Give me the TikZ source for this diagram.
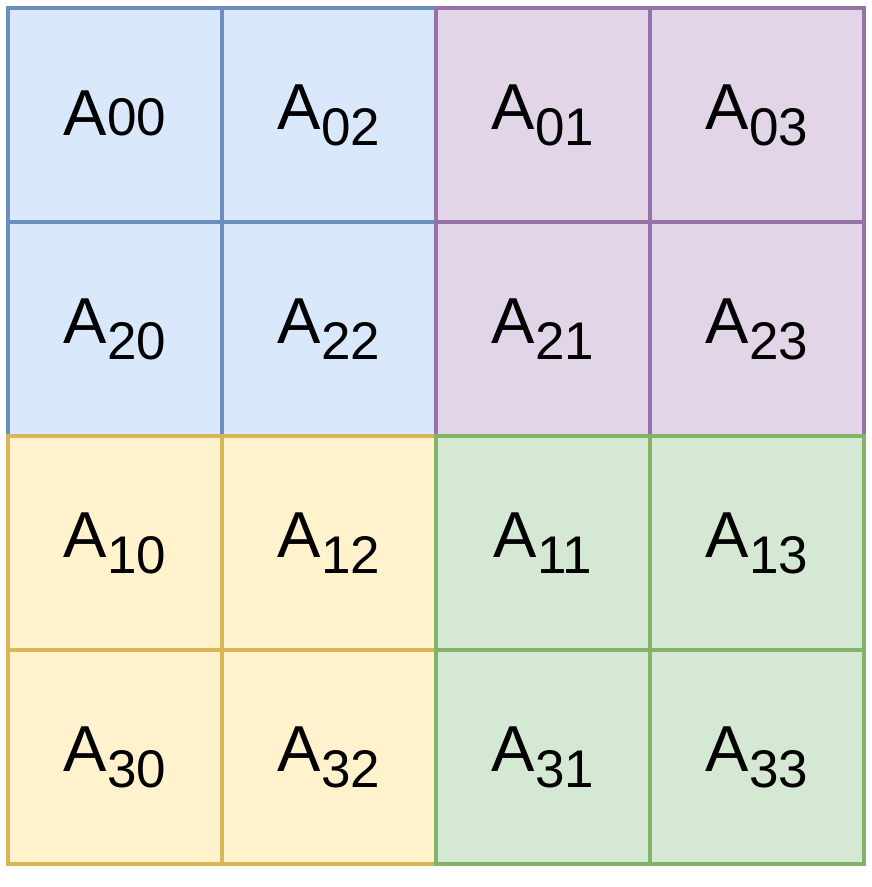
\documentclass[tikz,border=0pt]{standalone}
\usepackage{fontspec}
\setmainfont{Liberation Sans}
\definecolor{bluefill}{HTML}{DAE8FC}\definecolor{bluedraw}{HTML}{6C8EBF}
\definecolor{purplefill}{HTML}{E1D5E7}\definecolor{purpledraw}{HTML}{9673A6}
\definecolor{yellowfill}{HTML}{FFF2CC}\definecolor{yellowdraw}{HTML}{D6B656}
\definecolor{greenfill}{HTML}{D5E8D4}\definecolor{greendraw}{HTML}{82B366}
\newcommand{\bigA}{\fontsize{65}{65}\selectfont A}
\newcommand{\sbs}[1]{\raisebox{-16pt}{\fontsize{53}{53}\selectfont #1}}
\newcommand{\nsb}[1]{{\fontsize{53}{53}\selectfont #1}}
\begin{document}
\begin{tikzpicture}[x=1pt,y=1pt,
  cell/.style={draw, line width=4.3pt, rectangle, minimum width=214pt, minimum height=214pt, inner sep=0pt, font=\fontsize{65}{65}\selectfont},
  bluecell/.style={cell, fill=bluefill, draw=bluedraw},
  purplecell/.style={cell, fill=purplefill, draw=purpledraw},
  yellowcell/.style={cell, fill=yellowfill, draw=yellowdraw},
  greencell/.style={cell, fill=greenfill, draw=greendraw}]
\useasboundingbox (0,0) rectangle (871,887);
\fill[white] (0,0) rectangle (871,887);
% blue
\node[bluecell] (c00) at (115,772) {\raisebox{3pt}{\bigA\nsb{00}}};
\node[bluecell] (c02) at (329,772) {\bigA\sbs{02}};
\node[bluecell] (c20) at (115,558) {\bigA\sbs{20}};
\node[bluecell] (c22) at (329,558) {\bigA\sbs{22}};
% purple
\node[purplecell] (c01) at (543,772) {\bigA\sbs{01}};
\node[purplecell] (c03) at (757,772) {\bigA\sbs{03}};
\node[purplecell] (c21) at (543,558) {\bigA\sbs{21}};
\node[purplecell] (c23) at (757,558) {\bigA\sbs{23}};
% yellow
\node[yellowcell] (c10) at (115,344) {\bigA\sbs{10}};
\node[yellowcell] (c12) at (329,344) {\bigA\sbs{12}};
\node[yellowcell] (c30) at (115,130) {\bigA\sbs{30}};
\node[yellowcell] (c32) at (329,130) {\bigA\sbs{32}};
% green
\node[greencell] (c11) at (543,344) {\bigA\sbs{11}};
\node[greencell] (c13) at (757,344) {\bigA\sbs{13}};
\node[greencell] (c31) at (543,130) {\bigA\sbs{31}};
\node[greencell] (c33) at (757,130) {\bigA\sbs{33}};
\end{tikzpicture}
\end{document}
